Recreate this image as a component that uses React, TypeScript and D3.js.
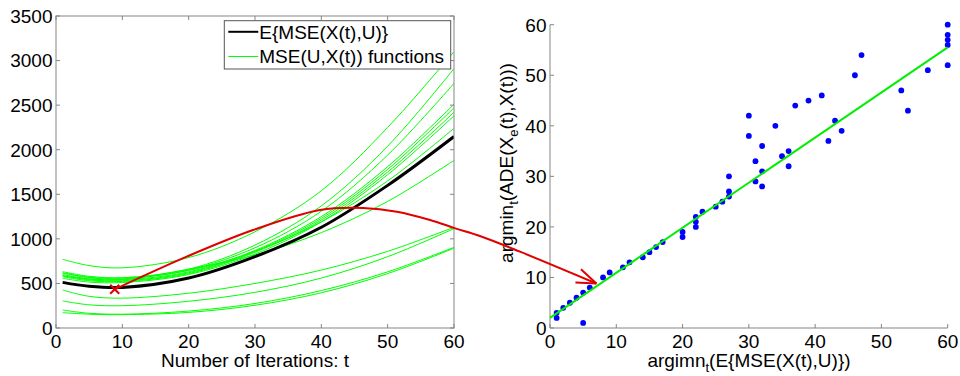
import React from "react";
import * as d3 from "d3";

// ---------- Left panel data ----------
const tSamples = [1, 5, 10, 20, 30, 40, 50, 60];
const meanMSE = [512, 468, 455, 560, 800, 1130, 1600, 2148];
const mseCurves: number[][] = [
  [771, 700, 675, 790, 1080, 1540, 2250, 3100],
  [632, 580, 565, 660, 930, 1370, 2040, 2910],
  [615, 565, 550, 650, 900, 1310, 1940, 2745],
  [600, 550, 540, 630, 870, 1250, 1810, 2510],
  [590, 540, 530, 620, 860, 1230, 1780, 2470],
  [576, 530, 522, 610, 850, 1210, 1750, 2420],
  [558, 515, 510, 600, 830, 1190, 1720, 2380],
  [620, 570, 560, 645, 860, 1190, 1650, 2240],
  [583, 550, 545, 660, 820, 1070, 1420, 1880],
  [426, 355, 335, 390, 500, 650, 860, 1130],
  [303, 260, 250, 300, 400, 560, 800, 1115],
  [202, 165, 155, 190, 275, 420, 630, 905],
  [172, 155, 150, 175, 255, 395, 610, 895],
];
const leftXTicks = [0, 10, 20, 30, 40, 50, 60];
const leftYTicks = [0, 500, 1000, 1500, 2000, 2500, 3000, 3500];

// red annotation (left-panel data units), ending at a point of the right panel
const arrowT = [8.85, 19.7, 29.7, 39.8, 46.3, 51.4, 56.4, 60.2, 63.9, 69.95];
const arrowV = [434, 800, 1099, 1324, 1346, 1305, 1212, 1118, 1032, 856];
const arrowTip = [7, 8.8];

// ---------- Right panel data ----------
const scatterX = [1, 1, 2, 3, 4, 5, 5, 6, 8, 9, 11, 12, 14, 15, 16, 17, 20, 20, 22, 22, 22, 23, 25, 26, 27, 27, 27, 30, 30, 31, 31, 32, 32, 32, 34, 35, 36, 36, 37, 39, 41, 42, 43, 44, 46, 47, 53, 54, 57, 60, 60, 60, 60, 60];
const scatterY = [3, 2, 4, 5, 6, 7, 1, 8, 10, 11, 12, 13, 14, 15, 16, 17, 19, 18, 22, 21, 20, 23, 24, 25, 26, 27, 30, 42, 38, 33, 29, 36, 31, 28, 40, 34, 35, 32, 44, 45, 46, 37, 41, 39, 50, 54, 47, 43, 51, 60, 58, 57, 56, 52];
const fitX = [0, 60];
const fitY = [2.0, 55.5];
const rightTicks = [0, 10, 20, 30, 40, 50, 60];

const FONT = "'Liberation Sans', Arial, Helvetica, sans-serif";
const FS = 19;
const AXIS = "#858585";

export default function App() {
  const xL = d3.scaleLinear().domain([0, 60]).range([56, 454]);
  const yL = d3.scaleLinear().domain([0, 3500]).range([328, 16]);
  const xR = d3.scaleLinear().domain([0, 60]).range([550, 947.7]);
  const yR = d3.scaleLinear().domain([0, 60]).range([328, 24.7]);

  const lineL = d3
    .line<number>()
    .x((_, i) => xL(tSamples[i]))
    .y((d) => yL(d))
    .curve(d3.curveCatmullRom.alpha(0.5));

  const arrowPts: [number, number][] = arrowT.map((t, i) => [xL(t), yL(arrowV[i])]);
  const tip: [number, number] = [xR(arrowTip[0]), yR(arrowTip[1])];
  arrowPts.push(tip);
  const arrowPath = d3.line().curve(d3.curveCatmullRom.alpha(0.5))(arrowPts) || "";
  const prev = arrowPts[arrowPts.length - 2];
  const ang = Math.atan2(prev[1] - tip[1], prev[0] - tip[0]);
  const bl = 21;
  const da = (20 * Math.PI) / 180;
  const b1 = [tip[0] + bl * Math.cos(ang + da), tip[1] + bl * Math.sin(ang + da)];
  const b2 = [tip[0] + bl * Math.cos(ang - da), tip[1] + bl * Math.sin(ang - da)];

  const mx = xL(arrowT[0]);
  const my = yL(arrowV[0]);
  const ms = 4.5;

  const tl = 4;

  return (
    <svg
      width={960}
      height={376}
      style={{ position: "absolute", left: 0, top: 0, background: "#fff" }}
      fontFamily={FONT}
      fontSize={FS}
    >
      <rect x={0} y={0} width={960} height={376} fill="#fff" />
      {/* ---------- Left panel ---------- */}
      <defs>
        <clipPath id="clipL">
          <rect x={56} y={16} width={398} height={312} />
        </clipPath>
      </defs>
      <g clipPath="url(#clipL)">
        {mseCurves.map((c, i) => (
          <path key={i} d={lineL(c) || ""} fill="none" stroke="#00ff00" strokeWidth={1} />
        ))}
        <path d={lineL(meanMSE) || ""} fill="none" stroke="#000" strokeWidth={3} />
      </g>
      {/* box & ticks */}
      <rect x={56} y={16} width={398} height={312} fill="none" stroke={AXIS} strokeWidth={1} />
      {leftXTicks.map((t) => (
        <g key={"lx" + t}>
          <line x1={xL(t)} x2={xL(t)} y1={328} y2={328 - tl} stroke={AXIS} />
          <line x1={xL(t)} x2={xL(t)} y1={16} y2={16 + tl} stroke={AXIS} />
          <text x={xL(t)} y={348} textAnchor="middle" fill="#000">
            {t}
          </text>
        </g>
      ))}
      {leftYTicks.map((v) => (
        <g key={"ly" + v}>
          <line x1={56} x2={56 + tl} y1={yL(v)} y2={yL(v)} stroke={AXIS} />
          <line x1={454} x2={454 - tl} y1={yL(v)} y2={yL(v)} stroke={AXIS} />
          <text x={52.5} y={yL(v) + 6.8} textAnchor="end" fill="#000">
            {v}
          </text>
        </g>
      ))}
      <text x={255} y={367} textAnchor="middle" fill="#000">
        Number of Iterations: t
      </text>
      {/* legend */}
      <rect x={224.3} y={20.7} width={226.4} height={48.3} fill="#fff" stroke="#555" strokeWidth={1} />
      <line x1={228.3} x2={258.3} y1={31.8} y2={31.8} stroke="#000" strokeWidth={2} />
      <text x={259.3} y={38.6} fill="#000">
        E{"{"}MSE(X(t),U){"}"}
      </text>
      <line x1={228.3} x2={258.3} y1={56.5} y2={56.5} stroke="#00ff00" strokeWidth={1} />
      <text x={259.3} y={63.2} fill="#000">
        MSE(U,X(t)) functions
      </text>

      {/* ---------- Right panel ---------- */}
      <line x1={550} x2={550} y1={yR(60)} y2={328} stroke={AXIS} />
      <line x1={550} x2={xR(60)} y1={328} y2={328} stroke={AXIS} />
      {rightTicks.map((t) => (
        <g key={"rx" + t}>
          <line x1={xR(t)} x2={xR(t)} y1={328} y2={328 - tl} stroke={AXIS} />
          <text x={xR(t)} y={348} textAnchor="middle" fill="#000">
            {t}
          </text>
        </g>
      ))}
      {rightTicks.map((v) => (
        <g key={"ry" + v}>
          <line x1={550} x2={550 + tl} y1={yR(v)} y2={yR(v)} stroke={AXIS} />
          <text x={546.5} y={yR(v) + 6.8} textAnchor="end" fill="#000">
            {v}
          </text>
        </g>
      ))}
      {scatterX.map((x, i) => (
        <circle key={"p" + i} cx={xR(x)} cy={yR(scatterY[i])} r={2.9} fill="#0000ff" />
      ))}
      <line
        x1={xR(fitX[0])}
        y1={yR(fitY[0])}
        x2={xR(fitX[1])}
        y2={yR(fitY[1])}
        stroke="#00ee00"
        strokeWidth={2}
      />
      <text x={749} y={367} textAnchor="middle" fill="#000">
        <tspan>argimn</tspan>
        <tspan dy={5} fontSize={13}>t</tspan>
        <tspan dy={-5}>(E{"{"}MSE(X(t),U){"}"})</tspan>
      </text>
      <text transform="translate(513,163) rotate(-90)" textAnchor="middle" fill="#000">
        <tspan>argmin</tspan>
        <tspan dy={5} fontSize={13}>t</tspan>
        <tspan dy={-5}>(ADE(X</tspan>
        <tspan dy={5} fontSize={13}>e</tspan>
        <tspan dy={-5}>(t),X(t)))</tspan>
      </text>

      {/* ---------- red annotation ---------- */}
      <path d={arrowPath} fill="none" stroke="#e00000" strokeWidth={2} />
      <line x1={tip[0]} y1={tip[1]} x2={b1[0]} y2={b1[1]} stroke="#e00000" strokeWidth={2} />
      <line x1={tip[0]} y1={tip[1]} x2={b2[0]} y2={b2[1]} stroke="#e00000" strokeWidth={2} />
      <line x1={mx - ms} y1={my - ms} x2={mx + ms} y2={my + ms} stroke="#e00000" strokeWidth={2} />
      <line x1={mx - ms} y1={my + ms} x2={mx + ms} y2={my - ms} stroke="#e00000" strokeWidth={2} />
    </svg>
  );
}
